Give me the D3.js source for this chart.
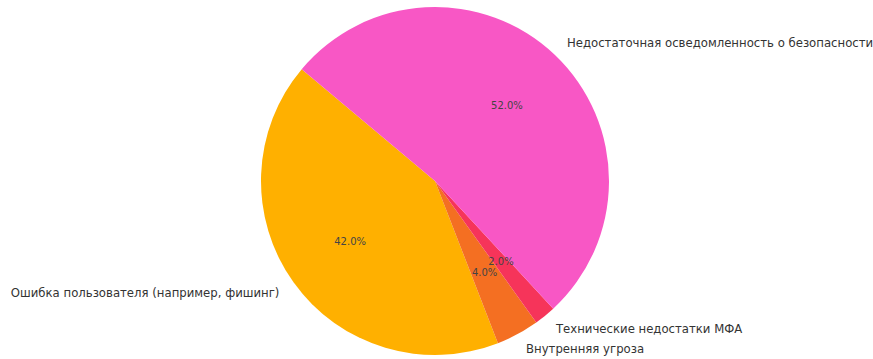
<!DOCTYPE html>
<html>
<head>
<meta charset="utf-8">
<script src="https://cdn.jsdelivr.net/npm/d3@7"></script>
<style>
  body { margin: 0; background: #fff; }
  text { font-family: "DejaVu Sans", sans-serif; }
</style>
</head>
<body>
<div id="chart"></div>
<script>
// data, in drawing order (counterclockwise from the start angle)
var categories = ["Ошибка пользователя (например, фишинг)", "Внутренняя угроза", "Технические недостатки МФА", "Недостаточная осведомленность о безопасности"];
var values = [42, 4, 2, 52];
var colors = ["#ffb000", "#f46f22", "#f6345a", "#f857c5"];

var width = 873,
    height = 359,
    cx = 435,
    cy = 181,
    radius = 174;

var svg = d3.select("#chart")
  .append("svg")
    .attr("width", width)
    .attr("height", height);

var g = svg.append("g")
  .attr("transform", "translate(" + cx + "," + cy + ")");

// matplotlib style: start at 140deg, go counterclockwise.
// d3 angles are clockwise from 12 o'clock, so convert
var startDeg = 140;
var toD3 = function(deg) { return (90 - deg) * Math.PI / 180; };

var pie = d3.pie()
  .value(function(d) { return d; })
  .sort(null)
  .startAngle(toD3(startDeg))
  .endAngle(toD3(startDeg + 360));

var data_ready = pie(values);

var arc = d3.arc().innerRadius(0).outerRadius(radius);

g.selectAll("path")
  .data(data_ready)
  .enter()
  .append("path")
    .attr("d", function(d) {
      // swap so the arc winds ccw
      return arc({startAngle: d.endAngle, endAngle: d.startAngle});
    })
    .attr("fill", function(d, i) { return colors[i]; });

function mid(d) { return (d.startAngle + d.endAngle) / 2; }

// outer labels at 1.1 r
g.selectAll("text.lbl")
  .data(data_ready)
  .enter()
  .append("text")
    .attr("class", "lbl")
    .attr("x", function(d) { return Math.sin(mid(d)) * radius * 1.1; })
    .attr("y", function(d) { return -Math.cos(mid(d)) * radius * 1.1; })
    .attr("dy", "0.35em")
    .attr("text-anchor", function(d) { return Math.sin(mid(d)) > 0 ? "start" : "end"; })
    .style("font-size", "11.7px")
    .style("fill", "#333")
    .text(function(d, i) { return categories[i]; });

// percentages at 0.6 r
var total = d3.sum(values);
g.selectAll("text.pct")
  .data(data_ready)
  .enter()
  .append("text")
    .attr("class", "pct")
    .attr("x", function(d) { return Math.sin(mid(d)) * radius * 0.6; })
    .attr("y", function(d) { return -Math.cos(mid(d)) * radius * 0.6; })
    .attr("dy", "0.35em")
    .attr("text-anchor", "middle")
    .style("font-size", "10px")
    .style("fill", "#444")
    .text(function(d) { return (d.value / total * 100).toFixed(1) + "%"; });
</script>
</body>
</html>
